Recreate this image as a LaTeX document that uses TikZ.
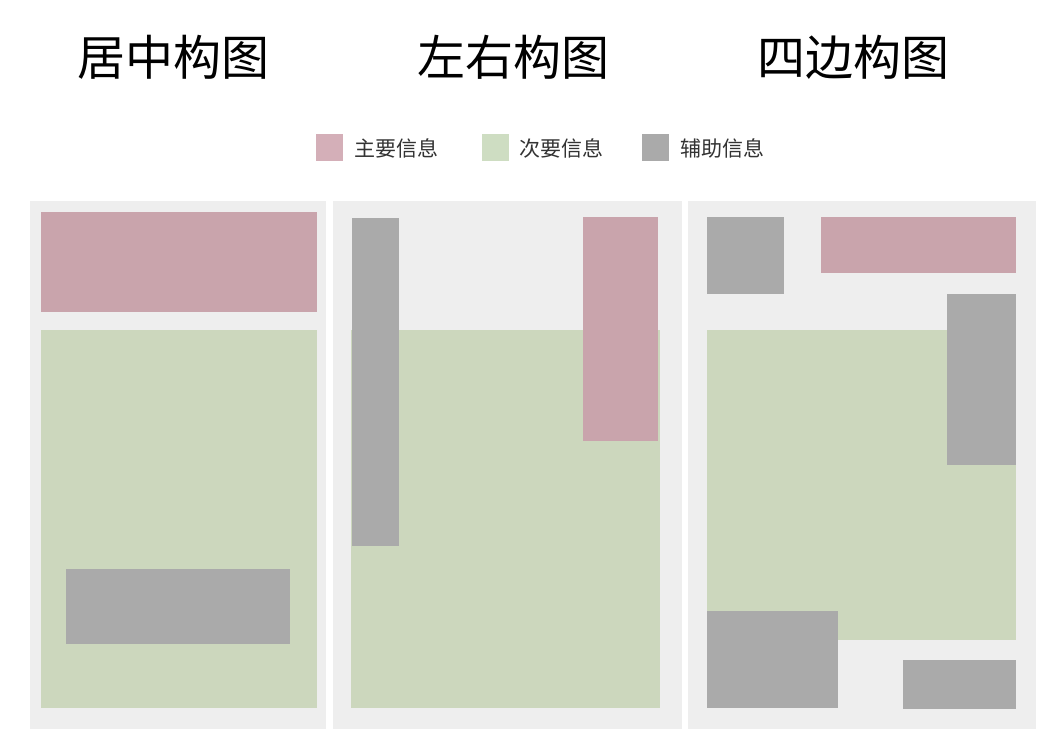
\documentclass[tikz,border=0pt]{standalone}
\usepackage{fontspec}
\newfontfamily\cjk{Noto Sans CJK SC}
\definecolor{mainc}{HTML}{C9A4AC}
\definecolor{secc}{HTML}{CCD7BD}
\definecolor{auxc}{HTML}{AAAAAA}
\definecolor{panelc}{HTML}{EEEEEE}
\definecolor{lmainc}{HTML}{D4AFB8}
\definecolor{lsecc}{HTML}{CEDDC2}
\definecolor{textc}{HTML}{333333}
\tikzset{
  title/.style={font=\cjk\fontsize{48}{52}\selectfont, text=black, inner sep=0pt},
  legtext/.style={font=\cjk\fontsize{21}{24}\selectfont, text=textc, anchor=west, inner sep=0pt},
}
\begin{document}
\begin{tikzpicture}[x=1pt,y=-1pt]
\useasboundingbox (0,0) rectangle (1060,744);
\fill[white] (0,0) rectangle (1060,744);
% titles
\node[title] (t1) at (173,57) {居中构图};
\node[title] (t2) at (513,57) {左右构图};
\node[title] (t3) at (853,57) {四边构图};
% legend
\fill[lmainc] (316,134) rectangle (343,161);
\node[legtext] (l1) at (354,148) {主要信息};
\fill[lsecc] (482,134) rectangle (509,161);
\node[legtext] (l2) at (519,148) {次要信息};
\fill[auxc] (642,134) rectangle (669,161);
\node[legtext] (l3) at (680,148) {辅助信息};
% panels
\fill[panelc] (30,201) rectangle (326,729);
\fill[panelc] (333,201) rectangle (682,729);
\fill[panelc] (688,201) rectangle (1036,729);
% panel 1
\fill[mainc] (41,212) rectangle (317,312);
\fill[secc] (41,330) rectangle (317,708);
\fill[auxc] (66,569) rectangle (290,644);
% panel 2
\fill[secc] (351,330) rectangle (660,708);
\fill[auxc] (352,218) rectangle (399,546);
\fill[mainc] (583,217) rectangle (658,441);
% panel 3
\fill[secc] (707,330) rectangle (1016,640);
\fill[auxc] (707,217) rectangle (784,294);
\fill[mainc] (821,217) rectangle (1016,273);
\fill[auxc] (947,294) rectangle (1016,465);
\fill[auxc] (707,611) rectangle (838,708);
\fill[auxc] (903,660) rectangle (1016,709);
\end{tikzpicture}
\end{document}
